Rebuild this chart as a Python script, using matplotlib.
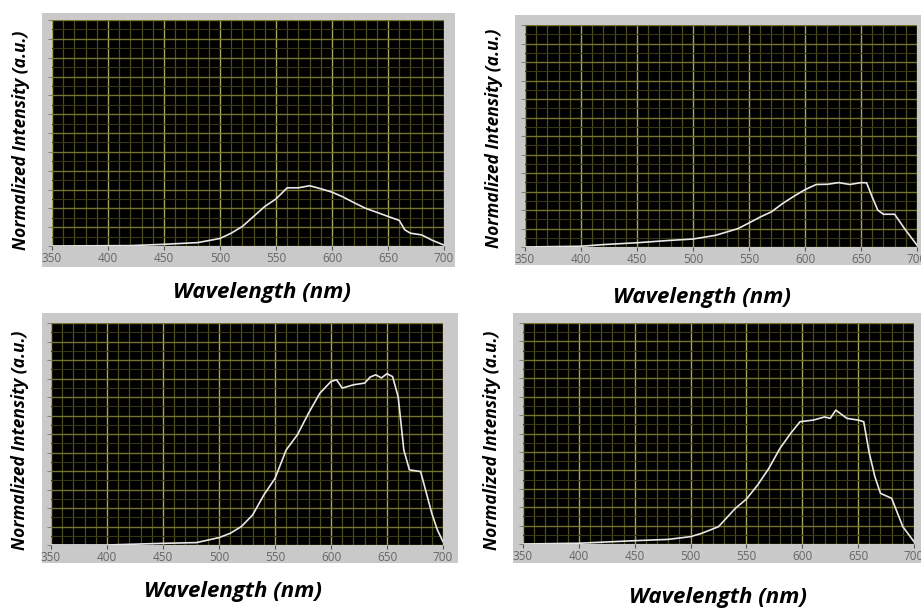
import matplotlib
matplotlib.use('Agg')
import matplotlib.pyplot as plt
from matplotlib.patches import Rectangle
from matplotlib.ticker import MultipleLocator

# spectra, intensity in grid units (0..12)
wl_a = [350, 420, 450, 480, 500, 510, 520, 530, 540, 550, 560, 570, 580, 590, 600,
        610, 620, 630, 640, 650, 660, 665, 670, 680, 690, 700]
int_a = [0.0, 0.02, 0.09, 0.18, 0.4, 0.68, 1.04, 1.57, 2.1, 2.5, 3.09, 3.09, 3.2, 3.04, 2.86,
         2.6, 2.29, 2.0, 1.79, 1.57, 1.36, 0.86, 0.68, 0.59, 0.29, 0.05]

wl_b = [350, 400, 420, 450, 480, 500, 520, 540, 550, 560, 570, 580, 590, 600, 610,
        620, 630, 640, 650, 655, 660, 665, 670, 680, 690, 700]
int_b = [0.0, 0.04, 0.13, 0.23, 0.36, 0.43, 0.63, 0.99, 1.3, 1.62, 1.9, 2.35, 2.74, 3.1, 3.38,
         3.39, 3.48, 3.38, 3.48, 3.47, 2.7, 1.99, 1.77, 1.77, 0.9, 0.1]

wl_c = [350, 400, 450, 480, 500, 510, 520, 530, 540, 550, 560, 570, 580, 590, 600, 605,
        610, 620, 630, 635, 640, 645, 650, 655, 660, 665, 670, 680, 690, 695, 700]
int_c = [0.0, 0.0, 0.09, 0.13, 0.4, 0.63, 1.0, 1.62, 2.7, 3.6, 5.14, 5.96, 7.13, 8.2, 8.84, 8.93,
         8.48, 8.66, 8.75, 9.08, 9.2, 9.03, 9.26, 9.1, 8.0, 5.14, 4.06, 3.97, 1.71, 0.81, 0.18]

wl_d = [350, 400, 450, 480, 500, 510, 525, 540, 550, 560, 570, 580, 590, 598, 610,
        620, 625, 630, 640, 650, 655, 660, 665, 670, 680, 690, 700]
int_d = [0.0, 0.04, 0.18, 0.25, 0.4, 0.58, 0.94, 1.93, 2.44, 3.2, 4.1, 5.19, 6.04, 6.64, 6.73,
         6.9, 6.82, 7.27, 6.82, 6.73, 6.64, 4.92, 3.65, 2.75, 2.48, 0.94, 0.13]

x_ticks = [350, 400, 450, 500, 550, 600, 650, 700]
x_label = 'Wavelength (nm)'
y_label = 'Normalized Intensity (a.u.)'

W, H = 921, 612

# pixel boxes: (frame l, t, r, b), (plot l, t, r, b), xlabel (x, y), ylabel (x, y)
panels = [
    (wl_a, int_a, (42, 13, 455, 267), (52, 20, 444, 246), (262, 292), (21, 140)),
    (wl_b, int_b, (515, 15, 921, 265), (525, 25, 917, 247), (702, 298), (494, 138)),
    (wl_c, int_c, (42, 313, 458, 563), (51, 323, 443, 545), (233, 592), (20, 440)),
    (wl_d, int_d, (513, 313, 921, 563), (523, 323, 914, 544), (718, 598), (492, 440)),
]

FONT = ['Open Sans', 'DejaVu Sans']


def main():
    fig = plt.figure(figsize=(W / 100, H / 100), dpi=100)
    fig.patch.set_facecolor('white')

    for wl, inten, frame, box, xl, yl in panels:
        fl, ft, fr, fb = frame
        fig.patches.append(Rectangle((fl / W, 1 - fb / H), (fr - fl) / W, (fb - ft) / H,
                                     transform=fig.transFigure, facecolor='#c9c9c9',
                                     edgecolor='none', zorder=-5))
        l, t, r, b = box
        ax = fig.add_axes([l / W, 1 - b / H, (r - l) / W, (b - t) / H])
        ax.set_facecolor('black')
        ax.set_xlim(350, 700)
        ax.set_ylim(0, 12)

        # grid: bright lines every 50 nm, dim every 10 nm; rows every unit, dim half rows
        for x in range(350, 701, 10):
            major = (x % 50 == 0)
            ax.axvline(x, color='#a6a65a' if major else '#4e4e1c',
                       lw=1.0 if major else 0.9, zorder=1)
        for i in range(0, 25):
            y = i * 0.5
            major = (i % 2 == 0)
            ax.axhline(y, color='#74742e' if major else '#363612',
                       lw=1.0 if major else 0.8, zorder=1)

        ax.plot(wl, inten, color='#e8e8e8', lw=1.2, zorder=3)

        for s in ax.spines.values():
            s.set_visible(False)
        ax.set_xticks(x_ticks)
        ax.set_xticklabels([str(v) for v in x_ticks], family=FONT)
        ax.yaxis.set_major_locator(MultipleLocator(1))
        ax.set_yticklabels([])
        ax.tick_params(axis='x', direction='out', length=3, width=0.8, color='#555555',
                       labelsize=8.5, labelcolor='#666666', pad=1)
        ax.tick_params(axis='y', direction='out', length=3, width=0.6, color='#777777')

        fig.text(xl[0] / W, 1 - xl[1] / H, x_label, ha='center', va='center',
                 fontsize=16, fontweight='bold', fontstyle='italic', family=FONT)
        fig.text(yl[0] / W, 1 - yl[1] / H, y_label, ha='center', va='center',
                 rotation=90, fontsize=12.5, fontweight='bold', fontstyle='italic',
                 family=FONT)

    fig.savefig('out.png', dpi=100)


if __name__ == '__main__':
    main()
